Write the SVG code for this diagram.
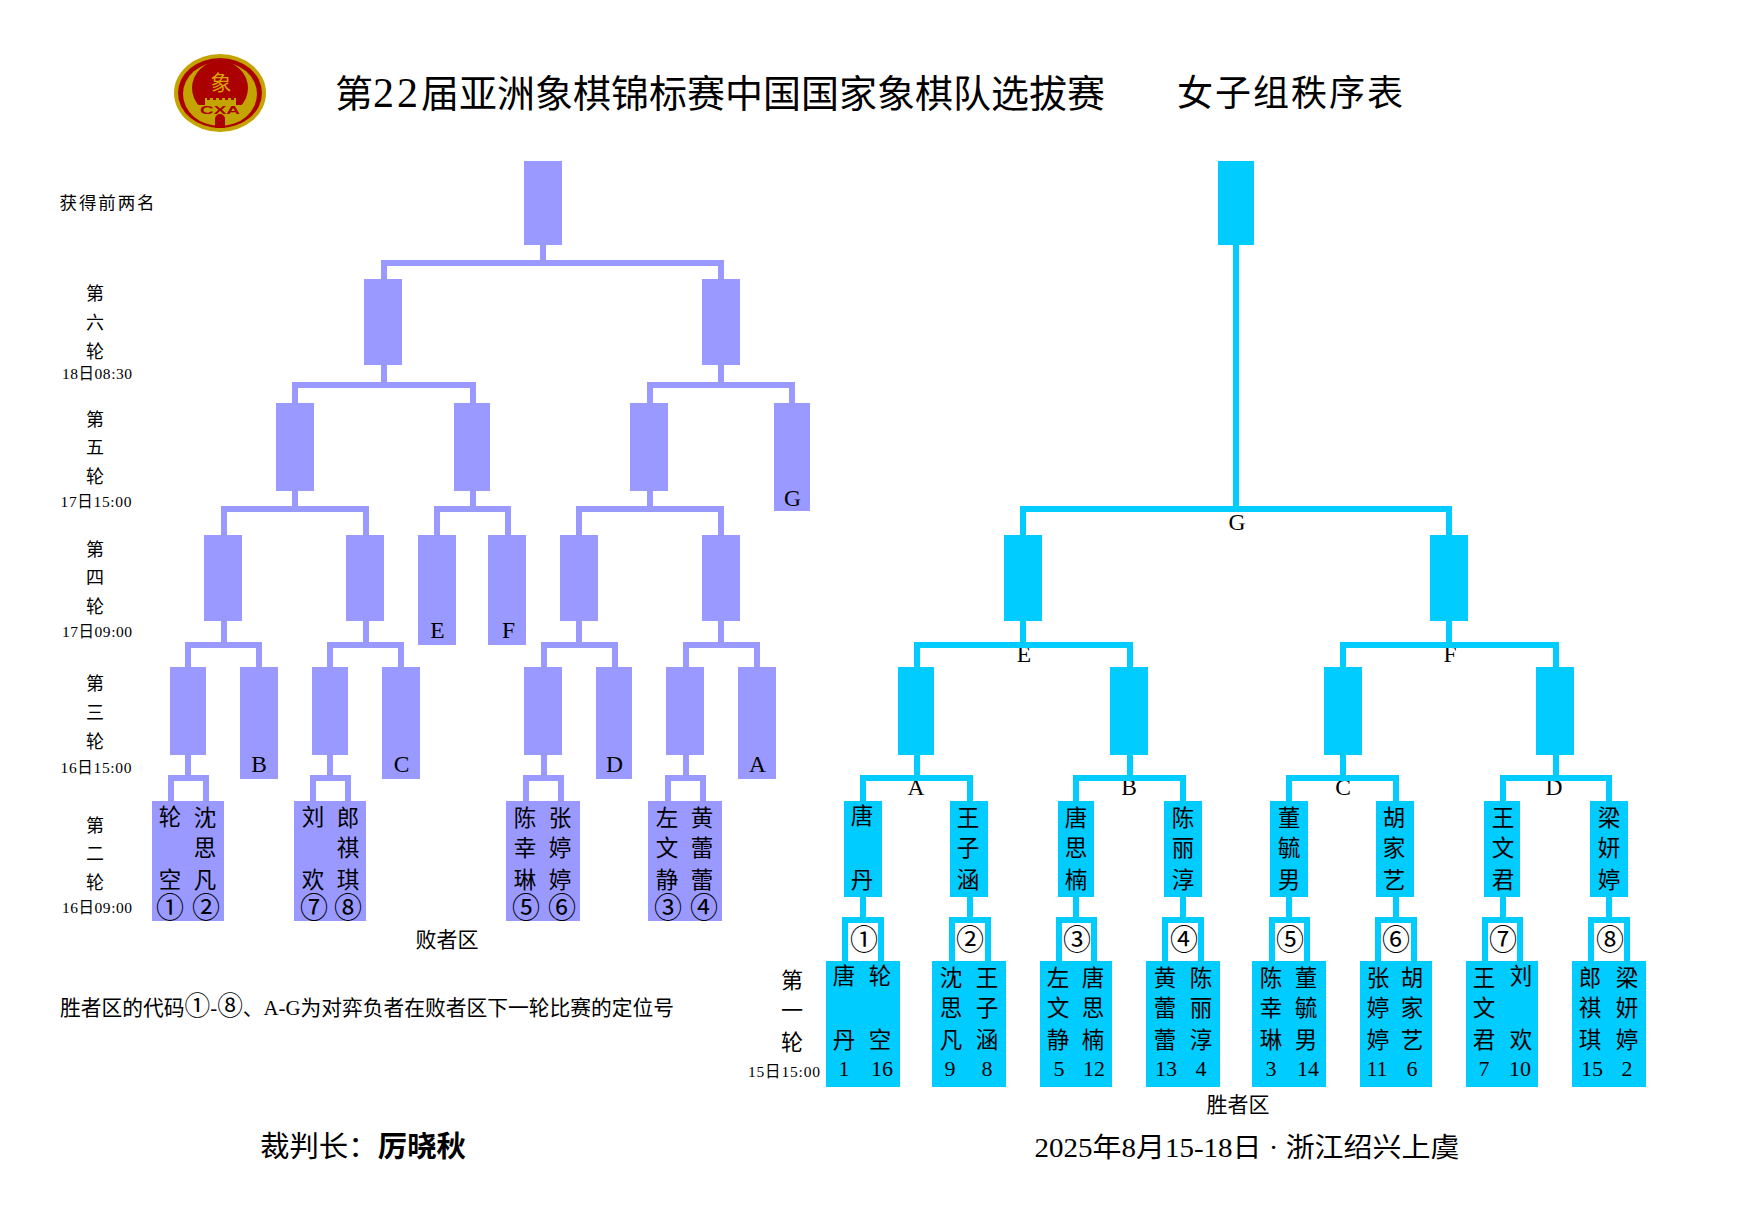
<svg xmlns="http://www.w3.org/2000/svg" width="1740" height="1212" viewBox="0 0 1740 1212">
<style>
text{font-family:"Liberation Serif","Noto Sans CJK SC",serif;fill:#000;text-anchor:middle}
.l{fill:#99f}.w{fill:#0cf}
.cl,.cw{fill:none;stroke-width:6}.cl{stroke:#99f}.cw{stroke:#0cf}
.n{font-size:22.5px}.c{font-size:28px}.num{font-size:22px}.let{font-size:23.5px}
.r{font-size:18px}.t{font-size:15.5px}.r1{font-size:22px}
</style>
<rect width="1740" height="1212" fill="#fff"/>
<g id="logo">
<ellipse cx="220" cy="93" rx="46" ry="39" fill="#c4a400"/>
<ellipse cx="220" cy="93" rx="42" ry="35" fill="#a00"/>
<ellipse cx="220" cy="94" rx="37" ry="32" fill="#c4a400"/>
<ellipse cx="220" cy="88" rx="28" ry="27" fill="#a00"/>
<path d="M205 106V98h2v2h3v-2h3v2h3v-2h3v2h3v-2h3v2h3v-2h3v2h3v-2h2v8z" fill="#c4a400"/>
<rect x="197" y="105" width="46" height="11" fill="#c4a400"/>
<path d="M215 128v-9a5 5 0 0 1 10 0v9z" fill="#a00"/>
<text x="220" y="114" font-size="11" font-weight="700" style="fill:#a00;font-family:'Liberation Sans',sans-serif" textLength="40" lengthAdjust="spacingAndGlyphs">CXA</text>
<text x="221" y="90" font-size="21" style="fill:#d9a400">象</text>
</g>
<g id="titles">
<text x="335" y="107" font-size="38" style="text-anchor:start">第<tspan font-size="42" letter-spacing="3">22</tspan>届亚洲象棋锦标赛中国国家象棋队选拔赛</text>
<text x="1290" y="106" font-size="36" textLength="226">女子组秩序表</text>
<text x="107" y="209" font-size="17.5" textLength="95">获得前两名</text>
<text x="447" y="947" font-size="21">败者区</text>
<text x="1238" y="1112" font-size="21">胜者区</text>
<text x="367" y="1015" font-size="21" textLength="614" lengthAdjust="spacingAndGlyphs">胜者区的代码<tspan font-size="26">①</tspan>-<tspan font-size="26">⑧</tspan>、A-G为对弈负者在败者区下一轮比赛的定位号</text>
<text x="363" y="1157" font-size="29" textLength="206" lengthAdjust="spacingAndGlyphs"><tspan>裁判长：</tspan><tspan font-weight="700">厉晓秋</tspan></text>
<text x="1247" y="1157" font-size="27" textLength="425" lengthAdjust="spacingAndGlyphs">2025年8月15-18日 · 浙江绍兴上虞</text>
</g>
<g id="round-labels">
<text class="r"><tspan x="95" y="300">第</tspan><tspan x="95" y="329">六</tspan><tspan x="95" y="358">轮</tspan></text>
<text class="t" x="97" y="379" textLength="70">18日08:30</text>
<text class="r"><tspan x="95" y="426">第</tspan><tspan x="95" y="454">五</tspan><tspan x="95" y="483">轮</tspan></text>
<text class="t" x="96" y="507" textLength="71">17日15:00</text>
<text class="r"><tspan x="95" y="556">第</tspan><tspan x="95" y="584">四</tspan><tspan x="95" y="613">轮</tspan></text>
<text class="t" x="97" y="637" textLength="70">17日09:00</text>
<text class="r"><tspan x="95" y="690">第</tspan><tspan x="95" y="719">三</tspan><tspan x="95" y="748">轮</tspan></text>
<text class="t" x="96" y="773" textLength="71">16日15:00</text>
<text class="r"><tspan x="95" y="832">第</tspan><tspan x="95" y="860">二</tspan><tspan x="95" y="889">轮</tspan></text>
<text class="t" x="97" y="913" textLength="70">16日09:00</text>
<text class="r1"><tspan x="792" y="988">第</tspan><tspan x="792" y="1018">一</tspan><tspan x="792" y="1050">轮</tspan></text>
<text class="t" x="784" y="1077" textLength="72">15日15:00</text>
</g>
<g id="winner-codes">
<text class="let" x="1237" y="530">G</text><text class="let" x="1024" y="662">E</text><text class="let" x="1450" y="662">F</text>
<text class="let" x="916" y="795">A</text><text class="let" x="1129" y="795">B</text><text class="let" x="1343" y="795">C</text><text class="let" x="1554" y="795">D</text>
<text class="c" x="864" y="950">①</text><text class="c" x="970" y="950">②</text><text class="c" x="1077" y="950">③</text><text class="c" x="1184" y="950">④</text>
<text class="c" x="1290" y="950">⑤</text><text class="c" x="1396" y="950">⑥</text><text class="c" x="1503" y="950">⑦</text><text class="c" x="1610" y="950">⑧</text>
</g>
<g id="connectors">
<path class="cl" d="M384 279V263H721V279M543 245V263
M295 403V385H473V403M384 365V385M650 403V385H792V403M721 365V385
M224 535V509H366V535M295 491V509M437 535V509H508V535M473 491V509M579 535V509H721V535M650 491V509
M188 667V645H259V667M224 621V645M330 667V645H401V667M366 621V645M544 667V645H615V667M579 621V645M686 667V645H757V667M721 621V645
M171 801V778H206V801M188 755V778M313 801V778H348V801M330 755V778M526 801V778H561V801M544 755V778M668 801V778H703V801M686 755V778"/>
<path class="cw" d="M1236 245V509M1023 535V509H1449V535
M917 667V645H1130V667M1023 621V645M1343 667V645H1556V667M1449 621V645
M863 801V778H970V801M917 755V778M1076 801V778H1183V801M1130 755V778M1289 801V778H1396V801M1343 755V778M1503 801V778H1609V801M1556 755V778
M845 961V920H881V961M863 897V920M952 961V920H988V961M970 897V920M1059 961V920H1094V961M1076 897V920M1165 961V920H1201V961M1183 897V920
M1272 961V920H1307V961M1289 897V920M1378 961V920H1414V961M1396 897V920M1485 961V920H1520V961M1503 897V920M1591 961V920H1627V961M1609 897V920"/>
</g>
<g id="loser-final"><rect class="l" x="524" y="161" width="38" height="84"/></g>
<g id="l6a"><rect class="l" x="364" y="279" width="38" height="86"/></g>
<g id="l6b"><rect class="l" x="702" y="279" width="38" height="86"/></g>
<g id="l5a"><rect class="l" x="276" y="403" width="38" height="88"/></g>
<g id="l5b"><rect class="l" x="454" y="403" width="36" height="88"/></g>
<g id="l5c"><rect class="l" x="630" y="403" width="38" height="88"/></g>
<g id="l5g"><rect class="l" x="774" y="403" width="36" height="108"/><text class="let" x="792.5" y="506">G</text></g>
<g id="l4a"><rect class="l" x="204" y="535" width="38" height="86"/></g>
<g id="l4b"><rect class="l" x="346" y="535" width="38" height="86"/></g>
<g id="l4e"><rect class="l" x="418" y="535" width="38" height="110"/><text class="let" x="437.5" y="638">E</text></g>
<g id="l4f"><rect class="l" x="488" y="535" width="38" height="110"/><text class="let" x="508.5" y="638">F</text></g>
<g id="l4c"><rect class="l" x="560" y="535" width="38" height="86"/></g>
<g id="l4d"><rect class="l" x="702" y="535" width="38" height="86"/></g>
<g id="l3a"><rect class="l" x="170" y="667" width="36" height="88"/></g>
<g id="l3b"><rect class="l" x="240" y="667" width="38" height="112"/><text class="let" x="259" y="772">B</text></g>
<g id="l3c"><rect class="l" x="312" y="667" width="36" height="88"/></g>
<g id="l3d"><rect class="l" x="382" y="667" width="38" height="112"/><text class="let" x="401.5" y="772">C</text></g>
<g id="l3e"><rect class="l" x="524" y="667" width="38" height="88"/></g>
<g id="l3f"><rect class="l" x="596" y="667" width="36" height="112"/><text class="let" x="614.5" y="772">D</text></g>
<g id="l3g"><rect class="l" x="666" y="667" width="38" height="88"/></g>
<g id="l3h"><rect class="l" x="738" y="667" width="38" height="112"/><text class="let" x="757.5" y="772">A</text></g>
<g id="l2a"><rect class="l" x="152" y="801" width="72" height="120"/>
<text class="n"><tspan x="170" y="825">轮</tspan><tspan x="170" y="888">空</tspan></text>
<text class="n"><tspan x="205" y="826">沈</tspan><tspan x="205" y="856">思</tspan><tspan x="205" y="888">凡</tspan></text>
<text class="c" x="170" y="918">①</text><text class="c" x="206" y="918">②</text></g>
<g id="l2b"><rect class="l" x="294" y="801" width="72" height="120"/>
<text class="n"><tspan x="313" y="825">刘</tspan><tspan x="313" y="888">欢</tspan></text>
<text class="n"><tspan x="348" y="826">郎</tspan><tspan x="348" y="856">祺</tspan><tspan x="348" y="888">琪</tspan></text>
<text class="c" x="314" y="918">⑦</text><text class="c" x="348" y="918">⑧</text></g>
<g id="l2c"><rect class="l" x="506" y="801" width="74" height="120"/>
<text class="n"><tspan x="525" y="826">陈</tspan><tspan x="525" y="856">幸</tspan><tspan x="525" y="888">琳</tspan></text>
<text class="n"><tspan x="560" y="826">张</tspan><tspan x="560" y="856">婷</tspan><tspan x="560" y="888">婷</tspan></text>
<text class="c" x="526" y="918">⑤</text><text class="c" x="562" y="918">⑥</text></g>
<g id="l2d"><rect class="l" x="648" y="801" width="74" height="120"/>
<text class="n"><tspan x="667" y="826">左</tspan><tspan x="667" y="856">文</tspan><tspan x="667" y="888">静</tspan></text>
<text class="n"><tspan x="702" y="826">黄</tspan><tspan x="702" y="856">蕾</tspan><tspan x="702" y="888">蕾</tspan></text>
<text class="c" x="668" y="918">③</text><text class="c" x="704" y="918">④</text></g>
<g id="winner-final"><rect class="w" x="1218" y="161" width="36" height="84"/></g>
<g id="w4a"><rect class="w" x="1004" y="535" width="38" height="86"/></g>
<g id="w4b"><rect class="w" x="1430" y="535" width="38" height="86"/></g>
<g id="w3a"><rect class="w" x="898" y="667" width="36" height="88"/></g>
<g id="w3b"><rect class="w" x="1110" y="667" width="38" height="88"/></g>
<g id="w3c"><rect class="w" x="1324" y="667" width="38" height="88"/></g>
<g id="w3d"><rect class="w" x="1536" y="667" width="38" height="88"/></g>
<g id="w2a"><rect class="w" x="844" y="801" width="38" height="96"/><text class="n"><tspan x="862" y="824">唐</tspan><tspan x="862" y="888">丹</tspan></text></g>
<g id="w2b"><rect class="w" x="950" y="801" width="38" height="96"/><text class="n"><tspan x="968" y="826">王</tspan><tspan x="968" y="856">子</tspan><tspan x="968" y="888">涵</tspan></text></g>
<g id="w2c"><rect class="w" x="1058" y="801" width="36" height="96"/><text class="n"><tspan x="1076" y="826">唐</tspan><tspan x="1076" y="856">思</tspan><tspan x="1076" y="888">楠</tspan></text></g>
<g id="w2d"><rect class="w" x="1164" y="801" width="38" height="96"/><text class="n"><tspan x="1183" y="826">陈</tspan><tspan x="1183" y="856">丽</tspan><tspan x="1183" y="888">淳</tspan></text></g>
<g id="w2e"><rect class="w" x="1270" y="801" width="38" height="96"/><text class="n"><tspan x="1289" y="826">董</tspan><tspan x="1289" y="856">毓</tspan><tspan x="1289" y="888">男</tspan></text></g>
<g id="w2f"><rect class="w" x="1376" y="801" width="38" height="96"/><text class="n"><tspan x="1394" y="826">胡</tspan><tspan x="1394" y="856">家</tspan><tspan x="1394" y="888">艺</tspan></text></g>
<g id="w2g"><rect class="w" x="1484" y="801" width="36" height="96"/><text class="n"><tspan x="1503" y="826">王</tspan><tspan x="1503" y="856">文</tspan><tspan x="1503" y="888">君</tspan></text></g>
<g id="w2h"><rect class="w" x="1590" y="801" width="38" height="96"/><text class="n"><tspan x="1609" y="826">梁</tspan><tspan x="1609" y="856">妍</tspan><tspan x="1609" y="888">婷</tspan></text></g>
<g id="w1a"><rect class="w" x="826" y="961" width="74" height="126"/>
<text class="n"><tspan x="844" y="984">唐</tspan><tspan x="844" y="1048">丹</tspan></text><text class="n"><tspan x="880" y="984">轮</tspan><tspan x="880" y="1048">空</tspan></text>
<text class="num" x="844" y="1076">1</text><text class="num" x="882" y="1076">16</text></g>
<g id="w1b"><rect class="w" x="932" y="961" width="74" height="126"/>
<text class="n"><tspan x="951" y="986">沈</tspan><tspan x="951" y="1016">思</tspan><tspan x="951" y="1048">凡</tspan></text><text class="n"><tspan x="987" y="986">王</tspan><tspan x="987" y="1016">子</tspan><tspan x="987" y="1048">涵</tspan></text>
<text class="num" x="950" y="1076">9</text><text class="num" x="987" y="1076">8</text></g>
<g id="w1c"><rect class="w" x="1040" y="961" width="72" height="126"/>
<text class="n"><tspan x="1058" y="986">左</tspan><tspan x="1058" y="1016">文</tspan><tspan x="1058" y="1048">静</tspan></text><text class="n"><tspan x="1093" y="986">唐</tspan><tspan x="1093" y="1016">思</tspan><tspan x="1093" y="1048">楠</tspan></text>
<text class="num" x="1059" y="1076">5</text><text class="num" x="1094" y="1076">12</text></g>
<g id="w1d"><rect class="w" x="1146" y="961" width="74" height="126"/>
<text class="n"><tspan x="1165" y="986">黄</tspan><tspan x="1165" y="1016">蕾</tspan><tspan x="1165" y="1048">蕾</tspan></text><text class="n"><tspan x="1201" y="986">陈</tspan><tspan x="1201" y="1016">丽</tspan><tspan x="1201" y="1048">淳</tspan></text>
<text class="num" x="1166" y="1076">13</text><text class="num" x="1201" y="1076">4</text></g>
<g id="w1e"><rect class="w" x="1252" y="961" width="74" height="126"/>
<text class="n"><tspan x="1271" y="986">陈</tspan><tspan x="1271" y="1016">幸</tspan><tspan x="1271" y="1048">琳</tspan></text><text class="n"><tspan x="1306" y="986">董</tspan><tspan x="1306" y="1016">毓</tspan><tspan x="1306" y="1048">男</tspan></text>
<text class="num" x="1271" y="1076">3</text><text class="num" x="1308" y="1076">14</text></g>
<g id="w1f"><rect class="w" x="1360" y="961" width="72" height="126"/>
<text class="n"><tspan x="1378" y="986">张</tspan><tspan x="1378" y="1016">婷</tspan><tspan x="1378" y="1048">婷</tspan></text><text class="n"><tspan x="1412" y="986">胡</tspan><tspan x="1412" y="1016">家</tspan><tspan x="1412" y="1048">艺</tspan></text>
<text class="num" x="1377" y="1076">11</text><text class="num" x="1412" y="1076">6</text></g>
<g id="w1g"><rect class="w" x="1466" y="961" width="72" height="126"/>
<text class="n"><tspan x="1484" y="986">王</tspan><tspan x="1484" y="1016">文</tspan><tspan x="1484" y="1048">君</tspan></text><text class="n"><tspan x="1521" y="984">刘</tspan><tspan x="1521" y="1048">欢</tspan></text>
<text class="num" x="1484" y="1076">7</text><text class="num" x="1520" y="1076">10</text></g>
<g id="w1h"><rect class="w" x="1572" y="961" width="74" height="126"/>
<text class="n"><tspan x="1590" y="986">郎</tspan><tspan x="1590" y="1016">祺</tspan><tspan x="1590" y="1048">琪</tspan></text><text class="n"><tspan x="1627" y="986">梁</tspan><tspan x="1627" y="1016">妍</tspan><tspan x="1627" y="1048">婷</tspan></text>
<text class="num" x="1592" y="1076">15</text><text class="num" x="1627" y="1076">2</text></g>
</svg>
